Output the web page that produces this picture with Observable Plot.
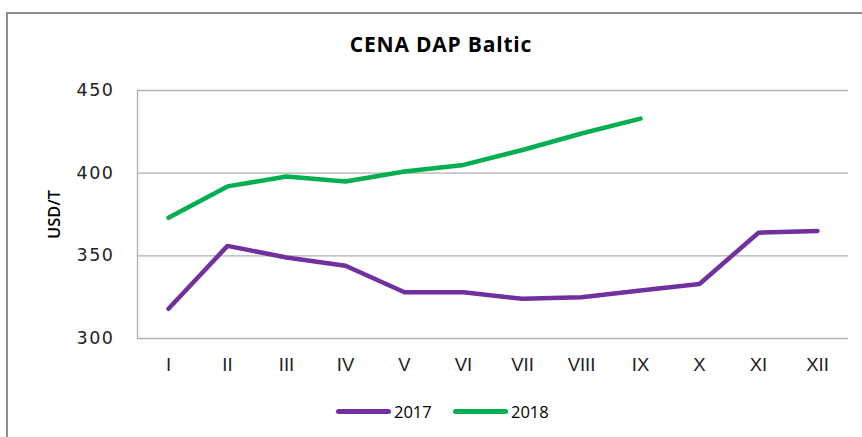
<!DOCTYPE html>
<html>
<head>
<meta charset="utf-8">
<script src="https://cdn.jsdelivr.net/npm/d3@7"></script>
<script src="https://cdn.jsdelivr.net/npm/@observablehq/plot@0.6"></script>
<style>
  html, body { margin: 0; padding: 0; background: #fff; }
  #wrap { position: relative; width: 862px; height: 437px; overflow: hidden; }
  #frame { position: absolute; left: 6px; top: 12px; width: 900px; height: 500px;
           border-left: 2px solid #8e8e8e; border-top: 2px solid #8e8e8e; }
  #title { position: absolute; left: 0; width: 882px; top: 30px; text-align: center;
           font: bold 21px "Open Sans", Lato, sans-serif; letter-spacing: 0.8px; color: #000; }
  #chart { position: absolute; left: 0; top: 0; }
  .leg { position: absolute; top: 400px; font: 16.5px "Open Sans", Lato, sans-serif; color: #000; }
  .sw { position: absolute; height: 5px; border-radius: 3px; top: 409px; }
  g[aria-label="y-axis tick label"] text { letter-spacing: 1.5px; }
</style>
</head>
<body>
<div id="wrap">
  <div id="frame"></div>
  <div id="chart"></div>
  <div id="title">CENA DAP Baltic</div>
  <div class="sw" style="left:336px;width:55px;background:#7030A0"></div>
  <div class="leg" style="left:394px">2017</div>
  <div class="sw" style="left:453px;width:55px;background:#00B050"></div>
  <div class="leg" style="left:511px">2018</div>
</div>
<script>
const months = ["I","II","III","IV","V","VI","VII","VIII","IX","X","XI","XII"];
const yTicks = [300, 350, 400, 450];
const values2017 = [318, 356, 349, 344, 328, 328, 324, 325, 329, 333, 364, 365];
const values2018 = [373, 392, 398, 395, 401, 405, 414, 424, 433];
const seriesNames = ["2017", "2018"];
const seriesColors = ["#7030A0", "#00B050"];

const rows = [
  ...values2017.map((v, i) => ({month: months[i], value: v, year: seriesNames[0]})),
  ...values2018.map((v, i) => ({month: months[i], value: v, year: seriesNames[1]}))
];

const chart = Plot.plot({
  width: 862,
  height: 437,
  marginLeft: 137,
  marginRight: 14,
  marginTop: 90,
  marginBottom: 99,
  style: {background: "transparent", overflow: "visible"},
  x: {type: "point", domain: months, padding: 0.5},
  y: {domain: [300, 450]},
  color: {domain: seriesNames, range: seriesColors},
  marks: [
    Plot.gridY(yTicks, {stroke: "#b0b0b0", strokeOpacity: 1, strokeWidth: 1.3}),
    Plot.frame({anchor: "left", stroke: "#b0b0b0", strokeWidth: 1.3}),
    Plot.axisY(yTicks, {tickSize: 0, tickPadding: 23, label: null,
      fontSize: 17.5, fontFamily: "DejaVu Sans", fill: "#222"}),
    Plot.axisX(months, {tickSize: 0, tickPadding: 19, label: null,
      fontSize: 18.5, fontFamily: "'Liberation Sans Narrow', 'Liberation Sans', sans-serif", fill: "#222"}),
    Plot.text(["USD/T"], {frameAnchor: "left", textAnchor: "middle", dx: -83, rotate: -90,
      fontSize: 16.5, fontWeight: 600, fontFamily: "'Open Sans', sans-serif", fill: "#000"}),
    Plot.lineY(rows, {x: "month", y: "value", z: "year", stroke: "year",
      strokeWidth: 4.5, strokeLinecap: "round", strokeLinejoin: "round"})
  ]
});
document.getElementById("chart").appendChild(chart);
</script>
</body>
</html>
